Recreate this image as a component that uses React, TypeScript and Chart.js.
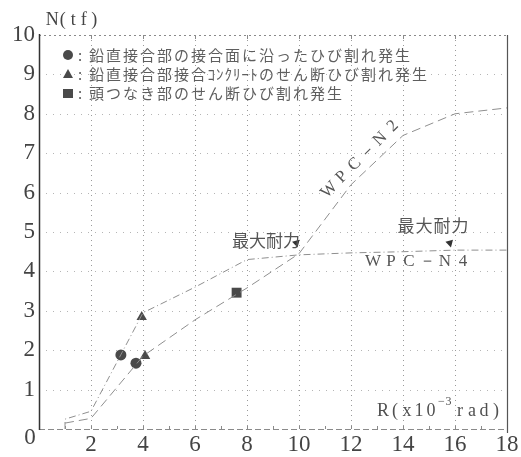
import { useEffect, useRef } from 'react';
import { Chart, registerables } from 'chart.js';

Chart.register(...registerables);

// ---- data ----
const xTickValues = [0, 2, 4, 6, 8, 10, 12, 14, 16, 18];
const yTickValues = [0, 1, 2, 3, 4, 5, 6, 7, 8, 9, 10];

const n4R = [1, 1, 2, 4, 6, 8, 10, 12, 14, 16, 18];
const n4N = [0, 0.25, 0.45, 2.95, 3.6, 4.3, 4.42, 4.47, 4.5, 4.54, 4.54];

const n2R = [1, 2, 4, 6, 8, 10, 12, 14, 16, 18];
const n2N = [0.15, 0.27, 1.85, 2.77, 3.58, 4.45, 6.2, 7.45, 8.0, 8.15];

const circleR = [3.15, 3.73];
const circleN = [1.88, 1.67];
const triangleR = [3.95, 4.08];
const triangleN = [2.84, 1.85];
const squareR = [7.6];
const squareN = [3.46];
const maxR = [9.9, 15.8];
const maxN = [4.72, 4.72];

const legendLabels = [
  '鉛直接合部の接合面に沿ったひび割れ発生',
  '鉛直接合部接合ｺﾝｸﾘｰﾄのせん断ひび割れ発生',
  '頭つなき部のせん断ひび割れ発生',
];
const yAxisTitle = 'N(tf)';
const xAxisTitleA = 'R(x10';
const xAxisTitleExp = '−3';
const xAxisTitleB = 'rad)';
const maxLabel = '最大耐力';
const n4Label = 'WPC－N4';
const n2Label = 'WPC－N2';

const pts = (xs: number[], ys: number[]) => xs.map((x, i) => ({ x, y: ys[i] }));

const INK = '#4a4a4a';
const LINE = '#8f8f8f';

function isHalf(ch: string) {
  const c = ch.charCodeAt(0);
  return c >= 0xff61 && c <= 0xff9f;
}

function drawSpaced(ctx: CanvasRenderingContext2D, text: string, x: number, y: number, pitch: number) {
  let cx = x;
  for (const ch of text) {
    const w = isHalf(ch) ? pitch / 2 : pitch;
    ctx.fillText(ch, cx + w / 2, y);
    cx += w;
  }
  return cx;
}

const annotate = {
  id: 'annotate',
  beforeDatasetsDraw(chart: any) {
    const ctx: CanvasRenderingContext2D = chart.ctx;
    const xs = chart.scales.x;
    const ys = chart.scales.y;
    const { left, right, top, bottom } = chart.chartArea;
    ctx.save();
    // vertical grid
    ctx.strokeStyle = '#9a9a9a';
    ctx.lineWidth = 1;
    ctx.setLineDash([1, 4]);
    xTickValues.forEach((v) => {
      if (v === 0 || v === 18) return;
      const px = Math.round(xs.getPixelForValue(v)) + 0.5;
      ctx.beginPath();
      ctx.moveTo(px, top);
      ctx.lineTo(px, bottom);
      ctx.stroke();
    });
    // horizontal grid
    ctx.strokeStyle = '#b5b5b5';
    ctx.setLineDash([1, 6]);
    yTickValues.forEach((v) => {
      if (v === 0 || v === 10) return;
      const py = Math.round(ys.getPixelForValue(v)) + 0.5;
      ctx.beginPath();
      ctx.moveTo(left, py);
      ctx.lineTo(right, py);
      ctx.stroke();
    });
    // top border dotted
    ctx.strokeStyle = '#8a8a8a';
    ctx.setLineDash([2, 3]);
    ctx.beginPath();
    ctx.moveTo(left, top + 0.5);
    ctx.lineTo(right, top + 0.5);
    ctx.stroke();
    // bottom border dashed
    ctx.setLineDash([6, 3]);
    ctx.beginPath();
    ctx.moveTo(left, bottom + 0.5);
    ctx.lineTo(right, bottom + 0.5);
    ctx.stroke();
    ctx.setLineDash([]);
    // ticks on top and bottom
    for (let v = 1; v < 18; v++) {
      const px = Math.round(xs.getPixelForValue(v)) + 0.5;
      ctx.beginPath();
      if (v % 2 === 0) {
        ctx.moveTo(px, top);
        ctx.lineTo(px, top + 4);
      }
      ctx.moveTo(px, bottom);
      ctx.lineTo(px, bottom - 3);
      ctx.stroke();
    }
    // left axis solid, right border solid
    ctx.strokeStyle = '#333';
    ctx.lineWidth = 1.5;
    ctx.beginPath();
    ctx.moveTo(left + 0.5, top - 1);
    ctx.lineTo(left + 0.5, bottom + 1);
    ctx.stroke();
    ctx.strokeStyle = '#555';
    ctx.lineWidth = 1.2;
    ctx.beginPath();
    ctx.moveTo(right + 0.5, top);
    ctx.lineTo(right + 0.5, bottom + 4);
    ctx.stroke();
    ctx.restore();
  },
  afterDraw(chart: any) {
    const ctx: CanvasRenderingContext2D = chart.ctx;
    const { left } = chart.chartArea;
    ctx.save();
    ctx.fillStyle = '#444';
    ctx.textBaseline = 'middle';
    ctx.textAlign = 'center';
    // origin label
    ctx.font = '23px "Liberation Serif"';
    ctx.fillText('0', left - 9, 438);
    // y axis title
    ctx.font = '18px "Liberation Serif"';
    drawSpaced(ctx, yAxisTitle, left + 8, 20, 10.5);
    // x axis title
    ctx.fillStyle = '#505050';
    ctx.font = '18px "Liberation Serif"';
    let cx = drawSpaced(ctx, xAxisTitleA, 377, 411, 12);
    ctx.font = '12px "Liberation Serif"';
    cx = drawSpaced(ctx, xAxisTitleExp, cx + 1, 402, 7);
    ctx.font = '18px "Liberation Serif"';
    drawSpaced(ctx, xAxisTitleB, cx + 2, 411, 12);
    // legend
    ctx.fillStyle = INK;
    const rows = [55, 74, 93];
    ctx.beginPath();
    ctx.arc(68, rows[0], 5, 0, Math.PI * 2);
    ctx.fill();
    ctx.beginPath();
    ctx.moveTo(68, rows[1] - 5);
    ctx.lineTo(73, rows[1] + 4);
    ctx.lineTo(63, rows[1] + 4);
    ctx.closePath();
    ctx.fill();
    ctx.fillRect(63, rows[2] - 4, 10, 9);
    ctx.fillStyle = '#5e5e5e';
    ctx.font = '15px "Noto Sans CJK JP"';
    legendLabels.forEach((t, i) => {
      ctx.fillText(':', 80, rows[i]);
      drawSpaced(ctx, t, 88, rows[i], 17);
    });
    // annotations
    ctx.font = '17px "Noto Sans CJK JP"';
    ctx.fillStyle = '#555';
    drawSpaced(ctx, maxLabel, 232, 241, 17);
    drawSpaced(ctx, maxLabel, 397, 226, 18);
    ctx.font = '17px "Liberation Serif"';
    drawSpaced(ctx, n4Label, 364, 262, 18);
    ctx.translate(361, 158);
    ctx.rotate(-Math.PI / 4);
    drawSpaced(ctx, n2Label, -54, 0, 18);
    ctx.restore();
  },
};

export default function App() {
  const ref = useRef<HTMLCanvasElement | null>(null);
  useEffect(() => {
    if (!ref.current) return;
    const chart = new Chart(ref.current, {
      type: 'scatter',
      data: {
        datasets: [
          {
            label: 'WPC-N4',
            data: pts(n4R, n4N),
            showLine: true,
            borderColor: LINE,
            borderWidth: 1,
            borderDash: [7, 3, 1, 3],
            pointRadius: 0,
          },
          {
            label: 'WPC-N2',
            data: pts(n2R, n2N),
            showLine: true,
            borderColor: LINE,
            borderWidth: 1,
            borderDash: [9, 5],
            pointRadius: 0,
          },
          {
            label: 'circle',
            data: pts(circleR, circleN),
            pointStyle: 'circle',
            pointRadius: 5.5,
            backgroundColor: INK,
            borderColor: INK,
            borderWidth: 0,
          },
          {
            label: 'triangle',
            data: pts(triangleR, triangleN),
            pointStyle: 'triangle',
            pointRadius: 6,
            backgroundColor: INK,
            borderColor: INK,
            borderWidth: 0,
          },
          {
            label: 'square',
            data: pts(squareR, squareN),
            pointStyle: 'rect',
            pointRadius: 7,
            backgroundColor: INK,
            borderColor: INK,
            borderWidth: 0,
          },
          {
            label: 'max',
            data: pts(maxR, maxN),
            pointStyle: 'triangle',
            rotation: 165,
            pointRadius: 4.5,
            backgroundColor: '#333',
            borderColor: '#333',
            borderWidth: 0,
          },
        ],
      },
      options: {
        animation: false,
        responsive: false,
        devicePixelRatio: 1,
        layout: { padding: { top: 35, right: 14, left: 0, bottom: 0 } },
        plugins: { legend: { display: false }, tooltip: { enabled: false } },
        scales: {
          x: {
            type: 'linear',
            min: 0,
            max: 18,
            afterFit: (s: any) => {
              s.height = 28;
            },
            afterBuildTicks: (s: any) => {
              s.ticks = xTickValues.map((v) => ({ value: v }));
            },
            grid: { display: false, drawTicks: false },
            border: { display: false },
            ticks: {
              padding: 2,
              color: '#444',
              font: { family: '"Liberation Serif"', size: 23 },
              callback: (v: any) => (v === 0 ? '' : String(v)),
            },
          },
          y: {
            type: 'linear',
            min: 0,
            max: 10,
            afterFit: (s: any) => {
              s.width = 39;
            },
            afterBuildTicks: (s: any) => {
              s.ticks = yTickValues.map((v) => ({ value: v }));
            },
            grid: { display: false, drawTicks: false },
            border: { display: false },
            ticks: {
              padding: 4,
              color: '#444',
              font: { family: '"Liberation Serif"', size: 23 },
              callback: (v: any) => (v === 0 ? '' : String(v)),
            },
          },
        },
      },
      plugins: [annotate],
    });
    return () => chart.destroy();
  }, []);
  return (
    <canvas
      ref={ref}
      width={521}
      height={457}
      style={{ position: 'absolute', left: 0, top: 0, width: 521, height: 457 }}
    />
  );
}
